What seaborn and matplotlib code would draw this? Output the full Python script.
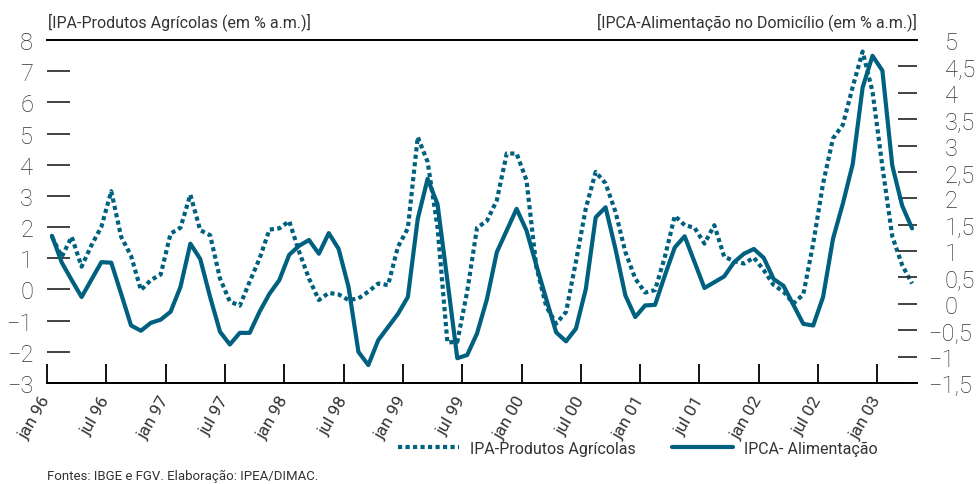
import numpy as np
import pandas as pd
import matplotlib
matplotlib.use('Agg')
import matplotlib.pyplot as plt
import matplotlib.transforms as mtransforms
import seaborn as sns

# monthly data, jan 96 .. apr 03
tick_labels = ['jan 96', 'jul 96', 'jan 97', 'jul 97', 'jan 98', 'jul 98', 'jan 99',
               'jul 99', 'jan 00', 'jul 00', 'jan 01', 'jul 01', 'jan 02', 'jul 02', 'jan 03']

ipa_agricolas = [1.69, 1.05, 1.69, 0.73, 1.42, 2.01, 3.15, 1.69, 1.08, -0.02, 0.30, 0.48,
                 1.79, 1.98, 3.04, 1.90, 1.74, 0.35, -0.39, -0.52, 0.25, 0.99, 1.92, 1.96,
                 2.19, 1.21, 0.35, -0.34, -0.11, -0.16, -0.34, -0.29, -0.07, 0.19, 0.14, 1.37,
                 1.96, 4.89, 4.09, 2.00, -1.70, -1.68, -0.07, 1.98, 2.20, 2.86, 4.36, 4.36,
                 3.50, 0.72, -0.55, -1.10, -0.72, 0.89, 2.60, 3.77, 3.40, 2.49, 1.20, 0.35,
                 -0.10, -0.02, 1.05, 2.36, 2.06, 1.98, 1.47, 2.06, 1.05, 0.91, 0.83, 1.02,
                 0.62, 0.14, -0.07, -0.45, -0.16, 1.47, 3.40, 4.84, 5.28, 6.50, 7.63, 6.35,
                 3.94, 1.70, 0.78, 0.19]

ipca_alimentacao = [1.29, 0.78, 0.45, 0.13, 0.46, 0.79, 0.78, 0.19, -0.41, -0.51, -0.36, -0.30,
                    -0.15, 0.32, 1.14, 0.85, 0.13, -0.53, -0.77, -0.55, -0.55, -0.15, 0.19, 0.45,
                    0.93, 1.10, 1.21, 0.95, 1.34, 1.04, 0.32, -0.91, -1.16, -0.69, -0.44, -0.19,
                    0.13, 1.61, 2.37, 1.89, 0.44, -1.03, -0.97, -0.56, 0.09, 0.98, 1.39, 1.80,
                    1.39, 0.73, 0.09, -0.54, -0.71, -0.47, 0.28, 1.64, 1.83, 1.04, 0.16, -0.25,
                    -0.03, -0.02, 0.54, 1.07, 1.28, 0.79, 0.30, 0.41, 0.52, 0.79, 0.95, 1.04,
                    0.87, 0.47, 0.34, -0.02, -0.38, -0.41, 0.13, 1.23, 1.90, 2.65, 4.10, 4.70,
                    4.42, 2.62, 1.86, 1.43]

left_ticks = list(range(-3, 9))
right_ticks = list(np.arange(-1.5, 5.01, 0.5))

n = len(ipa_agricolas)
df = pd.DataFrame({'pos': np.arange(n) + 0.5,
                   'ipa': ipa_agricolas,
                   'ipca': ipca_alimentacao})

sns.set_style('white')
plt.rcParams['font.family'] = ['Roboto', 'DejaVu Sans']
txt = '#333333'
teal = '#00607f'

fig = plt.figure(figsize=(9.78, 4.85), dpi=100)
ax = fig.add_axes([47 / 978, 1 - 384 / 485, 870 / 978, 343 / 485])
ax2 = ax.twinx()

sns.lineplot(data=df, x='pos', y='ipa', ax=ax, color=teal, lw=3,
             linestyle=(0, (1, 0.8)), legend=False)
sns.lineplot(data=df, x='pos', y='ipca', ax=ax2, color=teal, lw=3, legend=False)

ax.set_xlim(0, n)
ax.set_ylim(-3, 8)
ax2.set_ylim(-1.5, 5)
ax.set_xlabel('')
ax.set_ylabel('')
ax2.set_ylabel('')

ax.set_xticks(range(0, 85, 6))
ax.set_xticklabels(tick_labels)
ax.set_yticks(left_ticks)
ax.set_yticklabels([str(v).replace('-', '\u2212') for v in left_ticks])
ax2.set_yticks(right_ticks)
ax2.set_yticklabels([f'{v:g}'.replace('.', ',').replace('-', '\u2212') for v in right_ticks])

for a in (ax, ax2):
    for s in ('left', 'right'):
        a.spines[s].set_visible(False)
    a.spines['top'].set_color('black')
    a.spines['top'].set_linewidth(1.3)
    a.spines['bottom'].set_color('black')
    a.spines['bottom'].set_linewidth(1.3)

ax.tick_params(axis='y', direction='in', length=16.5, width=1.3, color='#333333',
               labelsize=17, labelcolor=txt, pad=10, left=True)
ax2.tick_params(axis='y', direction='in', length=14, width=1.3, color='#333333',
                labelsize=17, labelcolor=txt, pad=20, right=True)
ax.tick_params(axis='x', direction='in', length=14, width=1.3, color='black',
               labelsize=12.5, labelcolor=txt, pad=10, bottom=True)
for lab in ax.get_xticklabels():
    lab.set_rotation(60)
    lab.set_ha('right')
    lab.set_va('center')
    lab.set_rotation_mode('anchor')
for lab in ax.get_yticklabels() + ax2.get_yticklabels():
    lab.set_fontweight('light')

# negative labels on the right axis hang the minus sign to the left
shift = mtransforms.ScaledTranslation(-12 / 72, 0, fig.dpi_scale_trans)
for lab in ax2.get_yticklabels():
    if lab.get_text().startswith('\u2212'):
        lab.set_transform(lab.get_transform() + shift)

fig.text(48 / 978, 1 - 22 / 485, '[IPA-Produtos Agrícolas (em % a.m.)]',
         fontsize=11.5, color=txt, va='center', ha='left')
fig.text(917 / 978, 1 - 22 / 485, '[IPCA-Alimentação no Domicílio (em % a.m.)]',
         fontsize=11.5, color=txt, va='center', ha='right')
fig.text(47 / 978, 1 - 476 / 485, 'Fontes: IBGE e FGV. Elaboração: IPEA/DIMAC.',
         fontsize=9.5, color=txt, va='center', ha='left')

handles = [ax.lines[0], ax2.lines[0]]
leg = fig.legend(handles, ['IPA-Produtos Agrícolas', 'IPCA- Alimentação'],
                 loc='center left', bbox_to_anchor=(398 / 978, 1 - 449 / 485), ncol=2,
                 frameon=False, fontsize=11.5, handlelength=3.8, handletextpad=0.7,
                 columnspacing=2.3, borderpad=0, borderaxespad=0)
for t in leg.get_texts():
    t.set_color(txt)

fig.savefig('out.png', dpi=100)
